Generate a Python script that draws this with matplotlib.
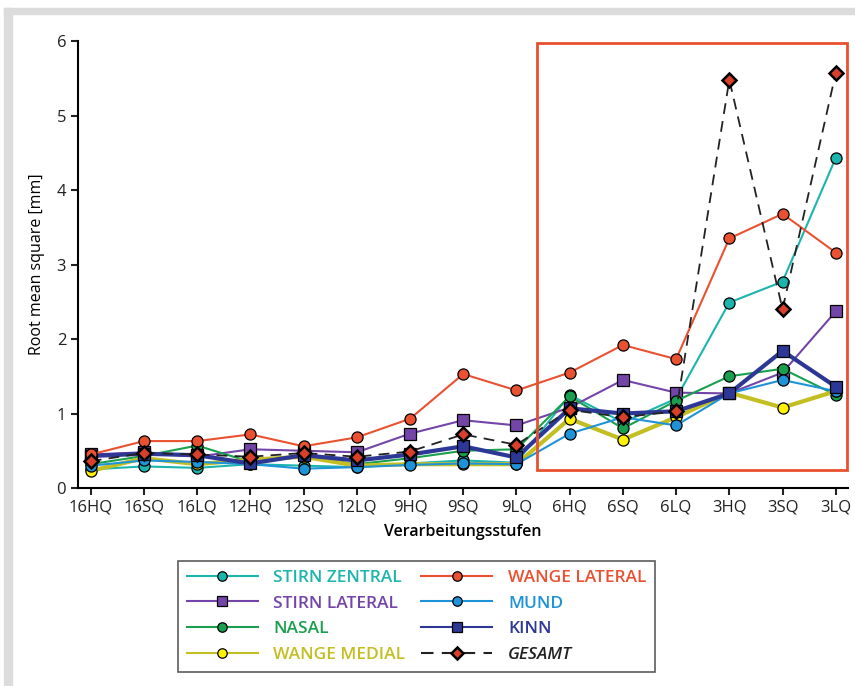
import matplotlib
matplotlib.use("Agg")
from matplotlib import pyplot as plt
from matplotlib.patches import Rectangle

plt.rcParams['font.family'] = ['Open Sans', 'DejaVu Sans']

stufen = ["16HQ", "16SQ", "16LQ", "12HQ", "12SQ", "12LQ", "9HQ", "9SQ", "9LQ",
          "6HQ", "6SQ", "6LQ", "3HQ", "3SQ", "3LQ"]

stirn_zentral = [0.25, 0.29, 0.27, 0.32, 0.30, 0.28, 0.33, 0.37, 0.34, 1.25, 0.88, 1.20, 2.49, 2.77, 4.43]
stirn_lateral = [0.45, 0.48, 0.42, 0.52, 0.50, 0.48, 0.73, 0.91, 0.84, 1.08, 1.45, 1.28, 1.27, 1.55, 2.37]
nasal = [0.32, 0.43, 0.57, 0.35, 0.42, 0.32, 0.40, 0.50, 0.52, 1.23, 0.80, 1.17, 1.50, 1.60, 1.25]
wange_medial = [0.23, 0.40, 0.32, 0.38, 0.42, 0.30, 0.32, 0.32, 0.32, 0.93, 0.65, 0.95, 1.28, 1.08, 1.30]
wange_lateral = [0.45, 0.63, 0.63, 0.72, 0.56, 0.68, 0.93, 1.53, 1.31, 1.55, 1.92, 1.73, 3.35, 3.68, 3.16]
mund = [0.30, 0.37, 0.35, 0.32, 0.26, 0.28, 0.31, 0.33, 0.32, 0.73, 0.95, 0.84, 1.27, 1.45, 1.30]
kinn = [0.43, 0.46, 0.44, 0.33, 0.44, 0.37, 0.45, 0.56, 0.41, 1.07, 1.00, 1.03, 1.27, 1.84, 1.36]
gesamt = [0.36, 0.47, 0.45, 0.42, 0.47, 0.42, 0.49, 0.72, 0.58, 1.05, 0.95, 1.03, 5.48, 2.40, 5.57]

x = list(range(len(stufen)))

fig = plt.figure(figsize=(8.55, 6.86), dpi=100)
# grauer Rahmen oben und links
fig.patches.append(Rectangle((4 / 855, 0), 8 / 855, 678 / 686, transform=fig.transFigure,
                             color="#dcdcdc", zorder=0))
fig.patches.append(Rectangle((4 / 855, 672 / 686), 851 / 855, 6 / 686, transform=fig.transFigure,
                             color="#dcdcdc", zorder=0))

ax = fig.add_axes([0.0912, 0.2886, 0.9006, 0.6516])

ms = 8
ax.plot(x, stirn_zentral, '-o', color="#1cb5ad", lw=1.5, ms=ms, mfc="#1cb5ad", mec="black", mew=0.9,
        label="STIRN ZENTRAL", zorder=3)
ax.plot(x, stirn_lateral, '-s', color="#7445a8", lw=1.5, ms=ms, mfc="#7445a8", mec="black", mew=0.9,
        label="STIRN LATERAL", zorder=3)
ax.plot(x, nasal, '-o', color="#1a9f4f", lw=1.5, ms=ms, mfc="#1a9f4f", mec="black", mew=0.9,
        label="NASAL", zorder=3)
ax.plot(x, wange_medial, '-o', color="#c3be22", lw=3, ms=ms, mfc="#fff200", mec="black", mew=0.9,
        label="WANGE MEDIAL", zorder=3)
ax.plot(x, wange_lateral, '-o', color="#ea5130", lw=1.5, ms=ms, mfc="#ea5130", mec="black", mew=0.9,
        label="WANGE LATERAL", zorder=4)
ax.plot(x, mund, '-o', color="#1f93d8", lw=1.5, ms=ms, mfc="#1f93d8", mec="black", mew=0.9,
        label="MUND", zorder=3)
ax.plot(x, kinn, '-s', color="#2c3796", lw=3, ms=ms, mfc="#2c3796", mec="black", mew=0.9,
        label="KINN", zorder=3)
ax.plot(x, gesamt, '--D', color="#222222", lw=1.3, dashes=(6, 4), ms=7, mfc="#d8402a", mec="black",
        mew=1.8, label="GESAMT", zorder=5)

ax.add_patch(Rectangle((8.38, 0.24), 14.22 - 8.38, 5.74, fill=False, ec="#e8502f", lw=2, zorder=6,
                       clip_on=False))

ax.set_xlim(-0.24, 14.23)
ax.set_ylim(0, 6)
ax.set_xticks(x)
ax.set_xticklabels(stufen)
ax.set_yticks(range(7))
ax.tick_params(direction='out', length=5, width=1.5, labelsize=12, colors="#222222")
for s in ["top", "right"]:
    ax.spines[s].set_visible(False)
for s in ["left", "bottom"]:
    ax.spines[s].set_linewidth(1.5)
ax.set_xlabel("Verarbeitungsstufen", fontsize=11.5, fontweight="semibold", labelpad=6)
ax.set_ylabel("Root mean square [mm]", fontsize=11.5, labelpad=8)

leg = fig.legend(loc="upper left", bbox_to_anchor=(178 / 855, 1 - 561 / 686), borderaxespad=0,
                 ncol=2, frameon=True, fancybox=False, edgecolor="#333333", handlelength=4.1,
                 markerscale=0.85, prop={"size": 12.5, "weight": "semibold"},
                 columnspacing=0.9, labelspacing=0.55, borderpad=0.5, handletextpad=0.9)
leg.get_frame().set_linewidth(1.2)
for t, h in zip(leg.get_texts(), leg.legend_handles):
    h.set_linewidth(1.5)
    c = h.get_color()
    if t.get_text() == "GESAMT":
        t.set_color("#222222")
        t.set_style("italic")
    elif t.get_text() == "WANGE MEDIAL":
        t.set_color("#c3be22")
    else:
        t.set_color(c)

fig.savefig("out.png", dpi=100)
